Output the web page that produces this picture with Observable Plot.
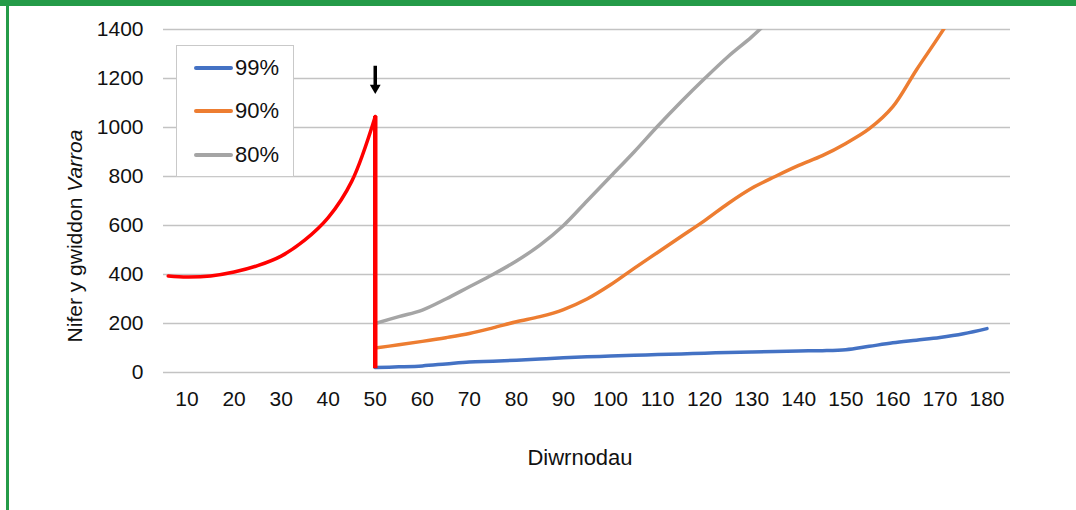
<!DOCTYPE html>
<html>
<head>
<meta charset="utf-8">
<script src="https://cdn.jsdelivr.net/npm/d3@7"></script>
<script src="https://cdn.jsdelivr.net/npm/@observablehq/plot@0.6"></script>
<style>
  html, body { margin: 0; padding: 0; background: #fff; }
  #wrap { position: relative; width: 1076px; height: 510px; overflow: hidden; font-family: "Liberation Sans", Arial, sans-serif; }
  .topbar { position: absolute; left: 0; top: 0; width: 1076px; height: 6px; background: #249B48; }
  .leftbar { position: absolute; left: 6px; top: 0; width: 2.5px; height: 510px; background: #249B48; }
  #legend { position: absolute; left: 176px; top: 45px; width: 116px; height: 130px; border: 1px solid #c9c9c9; background: #fff; }
  .item { position: absolute; left: 0; height: 0; }
  .swatch { position: absolute; left: 17px; width: 39px; height: 4px; margin-top: -2px; border-radius: 2px; }
  .lab { position: absolute; left: 58px; top: -13px; font-size: 22px; line-height: 26px; color: #111; white-space: nowrap; }
</style>
</head>
<body>
<div id="wrap"></div>
<script>
// ---- data ----
const seriesNames = ["99%", "90%", "80%"];
const seriesColors = ["#4472C4", "#ED7D31", "#A5A5A5"];

const daysAfter = [50, 55, 60, 65, 70, 75, 80, 85, 90, 95, 100, 105, 110, 115, 120, 125, 130, 135, 140, 145, 150, 155, 160, 165, 170, 175, 180];
const mites99 = [20, 23, 27, 35, 43, 46, 50, 55, 60, 64, 67, 70, 73, 76, 79, 82, 84, 86, 88, 89, 93, 107, 121, 132, 143, 158, 179];
const mites90 = [100, 113, 127, 142, 159, 182, 207, 228, 257, 300, 358, 425, 490, 555, 620, 690, 752, 800, 845, 885, 935, 995, 1085, 1235, 1378, 1530, 1700];
const mites80 = [200, 228, 255, 300, 350, 400, 455, 520, 600, 700, 800, 900, 1005, 1105, 1200, 1290, 1370, 1460, 1550, null, null, null, null, null, null, null, null];

const daysBefore = [6, 10, 15, 20, 25, 30, 35, 40, 45, 50];
const mitesBefore = [394, 390, 394, 410, 436, 475, 540, 632, 780, 1045];

const treatmentDay = 50;
const treatmentFrom = 15;
const treatmentTo = 1045;

const xTicks = [10, 20, 30, 40, 50, 60, 70, 80, 90, 100, 110, 120, 130, 140, 150, 160, 170, 180];
const yTicks = [0, 200, 400, 600, 800, 1000, 1200, 1400];

const yTitle = "Nifer y gwiddon ";
const yTitleItalic = "Varroa";
const xTitle = "Diwrnodau";

// arrow annotation (data coordinates)
const arrowDay = 50, arrowTop = 1250, arrowShaftEnd = 1168, arrowHead = 1162;

(function () {
  const seriesData = [];
  [mites99, mites90, mites80].forEach((arr, i) => {
    daysAfter.forEach((d, j) => {
      if (arr[j] != null) seriesData.push({day: d, value: arr[j], series: seriesNames[i]});
    });
  });
  const beforeData = daysBefore.map((d, i) => ({day: d, value: mitesBefore[i]}));

  const chart = Plot.plot({
    width: 1076,
    height: 510,
    marginLeft: 163,
    marginRight: 66,
    marginTop: 29,
    marginBottom: 138,
    style: {fontFamily: "'Liberation Sans', Arial, sans-serif", fontSize: "21px", color: "#111", background: "transparent"},
    x: {domain: [5, 185]},
    y: {domain: [0, 1400]},
    color: {domain: seriesNames, range: seriesColors},
    marks: [
      Plot.gridY(yTicks, {stroke: "#c3c3c3", strokeOpacity: 1, strokeWidth: 1.5}),
      Plot.axisX(xTicks, {tickSize: 0, tickPadding: 19, label: null, fontSize: 21, tickFormat: d => String(d)}),
      Plot.axisY(yTicks, {tickSize: 0, tickPadding: 20, label: null, fontSize: 21, tickFormat: d => String(d)}),
      Plot.line(seriesData, {x: "day", y: "value", z: "series", stroke: "series", strokeWidth: 3.5, curve: "catmull-rom", clip: true, strokeLinecap: "round"}),
      Plot.line(beforeData, {x: "day", y: "value", stroke: "#FF0000", strokeWidth: 3.5, curve: "catmull-rom"}),
      Plot.ruleX([treatmentDay], {y1: treatmentFrom, y2: treatmentTo, stroke: "#FF0000", strokeWidth: 4.5}),
      Plot.ruleX([arrowDay], {y1: arrowTop, y2: arrowShaftEnd, stroke: "#000", strokeWidth: 3.5}),
      Plot.dot([arrowDay], {x: d => d, y: () => arrowHead, symbol: "triangle", rotate: 180, r: 4, fill: "#000", stroke: "none"})
    ]
  });

  const wrap = document.getElementById("wrap");
  wrap.appendChild(chart);

  const svg = d3.select(chart);
  const yt = svg.append("text")
    .attr("transform", "translate(74,236) rotate(-90)")
    .attr("text-anchor", "middle")
    .attr("dominant-baseline", "central")
    .attr("font-size", 21)
    .attr("fill", "#111");
  yt.append("tspan").text(yTitle);
  yt.append("tspan").attr("font-style", "italic").text(yTitleItalic);

  svg.append("text")
    .attr("x", 580).attr("y", 465)
    .attr("text-anchor", "middle")
    .attr("font-size", 22)
    .attr("fill", "#111")
    .text(xTitle);

  const topBar = document.createElement("div"); topBar.className = "topbar"; wrap.appendChild(topBar);
  const leftBar = document.createElement("div"); leftBar.className = "leftbar"; wrap.appendChild(leftBar);

  const legend = document.createElement("div");
  legend.id = "legend";
  const legendY = [21.7, 65, 109];
  seriesNames.forEach((name, i) => {
    const it = document.createElement("div");
    it.className = "item";
    it.style.top = legendY[i] + "px";
    const sw = document.createElement("div");
    sw.className = "swatch";
    sw.style.background = seriesColors[i];
    const lb = document.createElement("div");
    lb.className = "lab";
    lb.textContent = name;
    it.appendChild(sw); it.appendChild(lb);
    legend.appendChild(it);
  });
  wrap.appendChild(legend);
})();
</script>
</body>
</html>
